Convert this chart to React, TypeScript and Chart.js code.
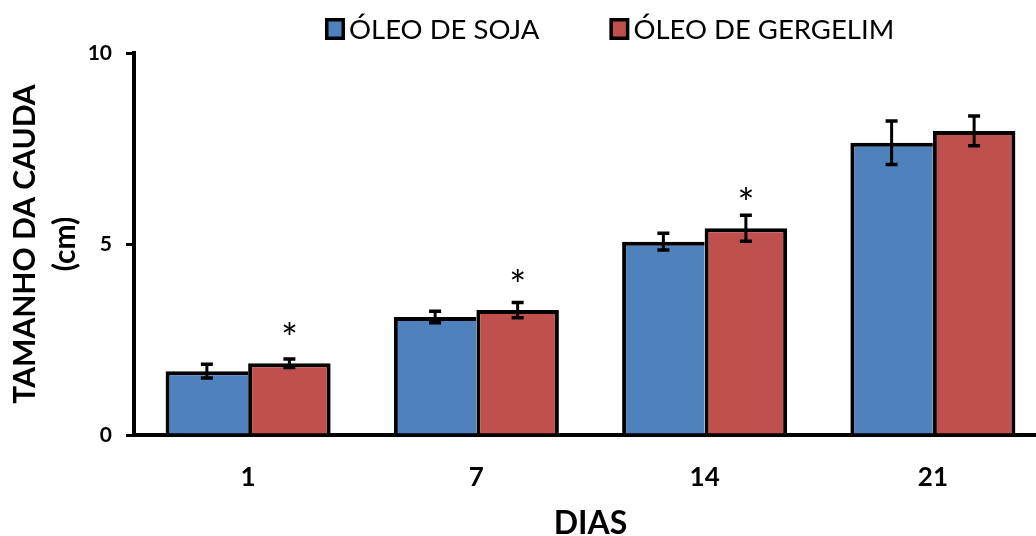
import React, { useEffect, useRef } from 'react';
import { Chart, registerables } from 'chart.js';

Chart.register(...registerables);

// ---- data ----
const categories = ['1', '7', '14', '21'];
const seriesNames = ['ÓLEO DE SOJA', 'ÓLEO DE GERGELIM'];
const sojaValues = [1.67, 3.09, 5.06, 7.65];
const sojaErrors = [0.18, 0.15, 0.22, 0.57];
const gergelimValues = [1.88, 3.27, 5.41, 7.96];
const gergelimErrors = [0.11, 0.2, 0.34, 0.39];
const significant = [true, true, true, false];
const yTickValues = [0, 5, 10];
const xAxisTitle = 'DIAS';
const yAxisTitle = ['TAMANHO DA CAUDA', '(cm)'];

const BLUE = '#4F81BD';
const RED = '#C0504D';
const FONT = 'Lato';

const errorBarPlugin = {
  id: 'errorBars',
  afterDatasetsDraw(chart: any) {
    const ctx = chart.ctx;
    const yScale = chart.scales.y;
    chart.data.datasets.forEach((ds: any, di: number) => {
      const meta = chart.getDatasetMeta(di);
      meta.data.forEach((bar: any, i: number) => {
        const v = ds.data[i];
        const e = ds.errors[i];
        const x = bar.x;
        const top = yScale.getPixelForValue(v + e);
        const bot = yScale.getPixelForValue(v - e);
        ctx.save();
        ctx.strokeStyle = '#000';
        ctx.lineWidth = 3;
        ctx.beginPath();
        ctx.moveTo(x, top);
        ctx.lineTo(x, bot);
        ctx.stroke();
        ctx.lineWidth = 3.5;
        ctx.beginPath();
        ctx.moveTo(x - 6, top);
        ctx.lineTo(x + 6, top);
        ctx.moveTo(x - 6, bot);
        ctx.lineTo(x + 6, bot);
        ctx.stroke();
        ctx.restore();
      });
    });
  },
};

const asteriskPlugin = {
  id: 'asterisks',
  afterDatasetsDraw(chart: any) {
    const ctx = chart.ctx;
    const yScale = chart.scales.y;
    const meta = chart.getDatasetMeta(1);
    const ds = chart.data.datasets[1];
    ctx.save();
    ctx.fillStyle = '#000';
    ctx.font = `40px ${FONT}`;
    ctx.textAlign = 'center';
    ctx.textBaseline = 'alphabetic';
    const m = ctx.measureText('*');
    const shift = (m.actualBoundingBoxAscent - m.actualBoundingBoxDescent) / 2;
    meta.data.forEach((bar: any, i: number) => {
      if (!significant[i]) return;
      const cy = yScale.getPixelForValue(ds.data[i]) - 35;
      ctx.fillText('*', bar.x, cy + shift);
    });
    ctx.restore();
  },
};

const legendPlugin = {
  id: 'boxLegend',
  afterDraw(chart: any) {
    const ctx = chart.ctx;
    const cy = 29;
    let x = 325;
    ctx.save();
    ctx.font = `27.5px ${FONT}`;
    ctx.textBaseline = 'middle';
    ctx.textAlign = 'left';
    chart.data.datasets.forEach((ds: any) => {
      ctx.fillStyle = '#000';
      ctx.fillRect(x, cy - 11, 20, 22);
      ctx.fillStyle = ds.backgroundColor;
      ctx.fillRect(x + 3.5, cy - 7.5, 13, 15);
      x += 24;
      ctx.fillStyle = '#000';
      ctx.fillText(ds.label, x, cy + 1);
      x += ctx.measureText(ds.label).width + 70;
    });
    ctx.restore();
  },
};

export default function App() {
  const canvasRef = useRef<HTMLCanvasElement | null>(null);

  useEffect(() => {
    if (!canvasRef.current) return;
    const chart = new Chart(canvasRef.current, {
      type: 'bar',
      data: {
        labels: categories,
        datasets: [
          {
            label: seriesNames[0],
            data: sojaValues,
            errors: sojaErrors,
            backgroundColor: BLUE,
            borderColor: '#000',
            borderWidth: { top: 4, left: 4, right: 0, bottom: 0 },
            categoryPercentage: 0.723,
            barPercentage: 1,
          } as any,
          {
            label: seriesNames[1],
            data: gergelimValues,
            errors: gergelimErrors,
            backgroundColor: RED,
            borderColor: '#000',
            borderWidth: { top: 4, left: 4, right: 4, bottom: 0 },
            categoryPercentage: 0.723,
            barPercentage: 1,
          } as any,
        ],
      },
      options: {
        responsive: false,
        animation: false,
        devicePixelRatio: 1,
        layout: { padding: { top: 53, left: 0, right: 0, bottom: 0 } },
        plugins: {
          legend: { display: false },
          tooltip: { enabled: false },
          title: { display: false },
        },
        scales: {
          x: {
            type: 'category',
            offset: true,
            grid: { display: false, drawTicks: false },
            border: { display: true, color: '#000', width: 4 },
            ticks: {
              color: '#000',
              padding: 27,
              font: { family: FONT, size: 26, weight: 'bold' },
            },
            title: {
              display: true,
              text: xAxisTitle,
              color: '#000',
              font: { family: FONT, size: 32, weight: 'bold', lineHeight: 0.8 },
              padding: { top: 0, bottom: 0 },
            },
            afterFit: (scale: any) => {
              scale.height = 101;
            },
          },
          y: {
            min: 0,
            max: 10,
            grid: {
              drawOnChartArea: false,
              drawTicks: true,
              tickLength: 8,
              color: '#000',
              lineWidth: 3,
            },
            border: { display: true, color: '#000', width: 4 },
            ticks: {
              stepSize: 5,
              color: '#000',
              padding: 14,
              font: { family: FONT, size: 21, weight: 'bold' },
              callback: (v: any) => (yTickValues.includes(Number(v)) ? String(v) : ''),
            },
            title: {
              display: true,
              text: yAxisTitle,
              color: '#000',
              font: { family: FONT, size: 30, weight: 'bold', lineHeight: 1.35 },
              padding: { top: 5, bottom: 0 },
            },
            afterFit: (scale: any) => {
              scale.width = 134;
            },
          },
        },
      } as any,
      plugins: [errorBarPlugin, asteriskPlugin, legendPlugin],
    });
    return () => chart.destroy();
  }, []);

  return (
    <div
      style={{
        position: 'absolute',
        left: 0,
        top: 0,
        width: 1036,
        height: 536,
        overflow: 'hidden',
        background: '#fff',
      }}
    >
      <div style={{ position: 'relative', width: 1047, height: 536 }}>
        <canvas ref={canvasRef} width={1047} height={536} style={{ display: 'block' }} />
      </div>
    </div>
  );
}
